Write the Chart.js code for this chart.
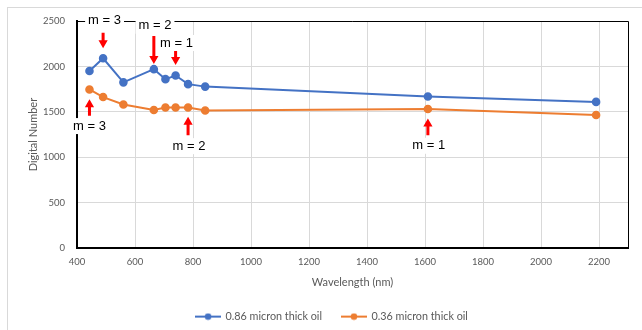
<!DOCTYPE html>
<html>
<head>
<meta charset="utf-8">
<script src="https://cdn.jsdelivr.net/npm/chart.js@4.4.0/dist/chart.umd.min.js"></script>
<style>
  html, body { margin: 0; padding: 0; background: #fff; }
  #wrap { width: 642px; height: 330px; }
</style>
</head>
<body>
<div id="wrap"><canvas id="oilChart" width="642" height="330"></canvas></div>
<script>

// Wavelengths of the bands (nm) and the readings for both oil films
const wavelengths = [443, 490, 560, 665, 705, 740, 783, 842, 1610, 2190];
const thickOil = [1950, 2090, 1825, 1970, 1860, 1900, 1805, 1778, 1670, 1610];
const thinOil = [1747, 1663, 1582, 1520, 1549, 1549, 1549, 1516, 1531, 1465];

const xTicks = [400, 600, 800, 1000, 1200, 1400, 1600, 1800, 2000, 2200];
const yTicks = [0, 500, 1000, 1500, 2000, 2500];

// Red arrows: wavelength, tail value, tip value
const arrowX = [490, 665, 740, 443, 783, 1610];
const arrowFrom = [2371, 2335, 2192, 1457, 1244, 1244];
const arrowTo = [2200, 2026, 2015, 1638, 1446, 1428];

// Interference order labels
const labelText = ['m = 3', 'm = 2', 'm = 1', 'm = 3', 'm = 2', 'm = 1'];
const labelX = [495, 669, 743, 443, 786, 1613];
const labelY = [2503, 2448, 2258, 1344, 1123, 1127];

const blue = '#4472C4';
const orange = '#ED7D31';
const grey = '#595959';

// little "line with a dot" icon for the legend
function legendIcon(color) {
    const c = document.createElement('canvas');
    c.width = 26;
    c.height = 8;
    const g = c.getContext('2d');
    g.strokeStyle = color;
    g.lineWidth = 2;
    g.beginPath();
    g.moveTo(0, 4);
    g.lineTo(26, 4);
    g.stroke();
    g.fillStyle = color;
    g.beginPath();
    g.arc(13, 4, 3.3, 0, Math.PI * 2);
    g.fill();
    return c;
}
const legendIcons = [legendIcon(blue), legendIcon(orange)];

const extras = {
    id: 'extras',
    beforeDraw(chart) {
        const ctx = chart.ctx;
        ctx.save();
        ctx.fillStyle = '#fff';
        ctx.fillRect(0, 0, chart.width, chart.height);
        ctx.strokeStyle = '#d9d9d9';
        ctx.lineWidth = 1;
        ctx.strokeRect(7.5, 7.5, 700, 400);
        ctx.restore();
    },
    afterDraw(chart) {
        const ctx = chart.ctx;
        const area = chart.chartArea;
        const xs = chart.scales.x;
        const ys = chart.scales.y;
        ctx.save();

        // thin top and right border of the plot
        ctx.strokeStyle = '#000';
        ctx.lineWidth = 1;
        ctx.beginPath();
        ctx.moveTo(area.left, area.top + 0.5);
        ctx.lineTo(area.right + 0.5, area.top + 0.5);
        ctx.lineTo(area.right + 0.5, area.bottom);
        ctx.stroke();

        // arrows
        ctx.fillStyle = '#FF0000';
        arrowX.forEach((w, i) => {
            const x = xs.getPixelForValue(w);
            const y0 = ys.getPixelForValue(arrowFrom[i]);
            const y1 = ys.getPixelForValue(arrowTo[i]);
            const dir = y1 > y0 ? 1 : -1;
            const yh = y1 - dir * 8;
            ctx.beginPath();
            ctx.moveTo(x - 1.5, y0);
            ctx.lineTo(x + 1.5, y0);
            ctx.lineTo(x + 1.5, yh);
            ctx.lineTo(x + 4.6, yh);
            ctx.lineTo(x, y1);
            ctx.lineTo(x - 4.6, yh);
            ctx.lineTo(x - 1.5, yh);
            ctx.closePath();
            ctx.fill();
        });

        // labels with white boxes
        ctx.font = '13px "Liberation Sans", Arial, sans-serif';
        ctx.textAlign = 'center';
        ctx.textBaseline = 'middle';
        labelText.forEach((t, i) => {
            const x = xs.getPixelForValue(labelX[i]);
            const y = ys.getPixelForValue(labelY[i]);
            const w = ctx.measureText(t).width + 6;
            ctx.fillStyle = '#fff';
            ctx.fillRect(x - w / 2, y - 8, w, 16);
            ctx.fillStyle = '#000';
            ctx.fillText(t, x, y);
        });
        ctx.restore();
    }
};

const ctxOil = document.getElementById('oilChart').getContext('2d');
const oilChart = new Chart(ctxOil, {

    type: 'line',

    data: {
        datasets: [{
            label: '0.86 micron thick oil',
            data: wavelengths.map((w, i) => ({ x: w, y: thickOil[i] })),
            borderColor: blue,
            backgroundColor: blue,
            borderWidth: 2,
            pointRadius: 3.3,
            pointHoverRadius: 3.3,
            tension: 0
        }, {
            label: '0.36 micron thick oil',
            data: wavelengths.map((w, i) => ({ x: w, y: thinOil[i] })),
            borderColor: orange,
            backgroundColor: orange,
            borderWidth: 2,
            pointRadius: 3.3,
            pointHoverRadius: 3.3,
            tension: 0
        }]
    },

    options: {
        responsive: false,
        animation: false,
        layout: { padding: { left: 36, right: 14, top: 21, bottom: -2 } },
        scales: {
            x: {
                type: 'linear',
                min: 400,
                max: 2300,
                afterBuildTicks: s => { s.ticks = xTicks.map(v => ({ value: v })); },
                afterFit: s => { s.height = 43; },
                grid: { color: '#d9d9d9', drawTicks: false },
                border: { color: '#000', width: 2 },
                ticks: {
                    color: grey, padding: 8, font: { family: 'Lato', size: 9.5 },
                    callback: v => String(v)
                },
                title: {
                    display: true, text: 'Wavelength (nm)', color: grey,
                    font: { family: 'Lato', size: 11 }, padding: { top: 0, bottom: 2 }
                }
            },
            y: {
                min: 0,
                max: 2500,
                afterBuildTicks: s => { s.ticks = yTicks.map(v => ({ value: v })); },
                afterFit: s => { s.width = 41; },
                grid: { color: '#d9d9d9', drawTicks: false },
                border: { color: '#000', width: 2 },
                ticks: {
                    color: grey, padding: 12, font: { family: 'Lato', size: 9.5 },
                    callback: v => String(v)
                },
                title: {
                    display: true, text: 'Digital Number', color: grey,
                    font: { family: 'Lato', size: 11 }, padding: { top: -9.6, bottom: 0 }
                }
            }
        },
        plugins: {
            tooltip: { enabled: false },
            legend: {
                position: 'bottom',
                labels: {
                    usePointStyle: true,
                    pointStyleWidth: 24,
                    boxHeight: 8,
                    padding: 20,
                    color: grey,
                    font: { family: 'Lato', size: 10.8 },
                    generateLabels(chart) {
                        const items = Chart.defaults.plugins.legend.labels.generateLabels(chart);
                        items.forEach((it, i) => { it.pointStyle = legendIcons[i]; });
                        return items;
                    }
                }
            }
        }
    },

    plugins: [extras]
});
</script>
</body>
</html>
